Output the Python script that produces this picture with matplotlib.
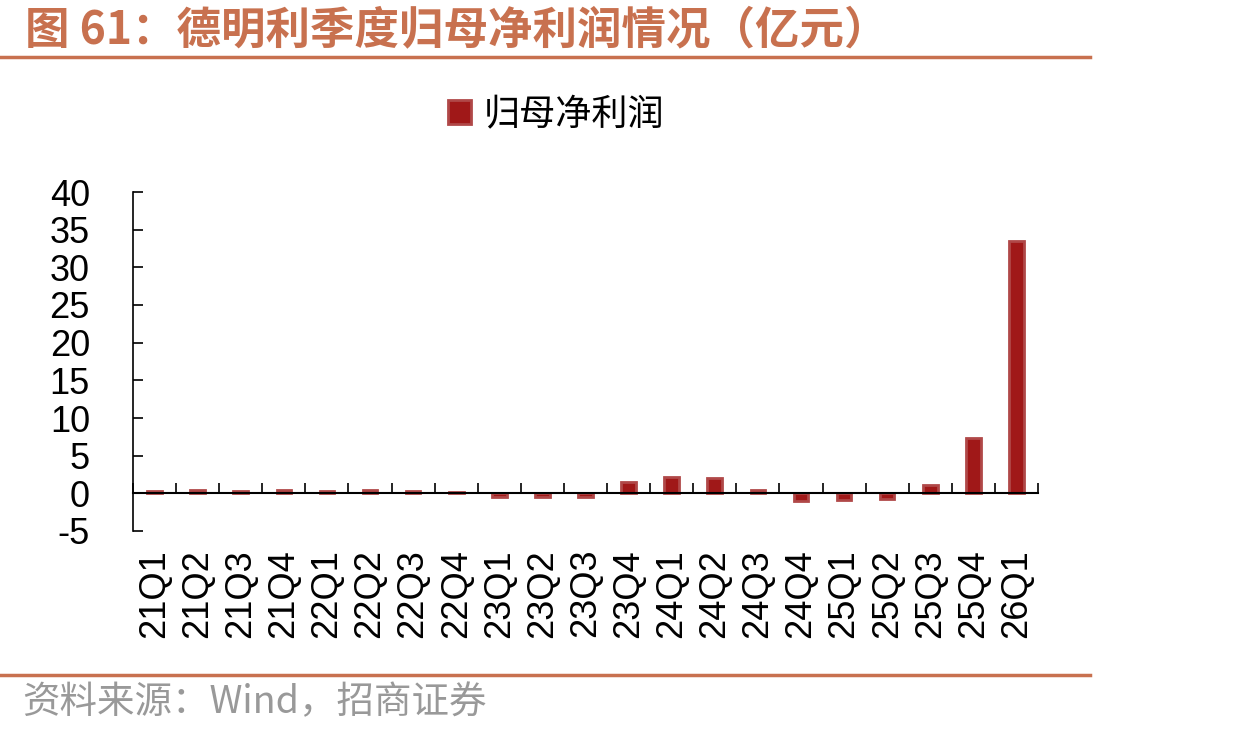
import numpy as np
import matplotlib
matplotlib.use("Agg")
import matplotlib.pyplot as plt

plt.rcParams['font.family'] = ['Liberation Sans', 'Noto Sans CJK SC', 'DejaVu Sans']

# quarterly net profit attributable to parent (100m CNY)
quarters = ["21Q1", "21Q2", "21Q3", "21Q4", "22Q1", "22Q2", "22Q3", "22Q4",
            "23Q1", "23Q2", "23Q3", "23Q4", "24Q1", "24Q2", "24Q3", "24Q4",
            "25Q1", "25Q2", "25Q3", "25Q4", "26Q1"]
profit = [0.3, 0.45, 0.3, 0.45, 0.3, 0.45, 0.3, 0.15,
          -0.55, -0.5, -0.55, 1.5, 2.2, 2.0, 0.4, -1.0,
          -0.85, -0.7, 1.15, 7.4, 33.5]
yticks = [-5, 0, 5, 10, 15, 20, 25, 30, 35, 40]

accent = "#C8714F"
bar_color = "#A01818"

fig = plt.figure(figsize=(12.45, 7.35), dpi=100)
ax = fig.add_axes([133/1245, 1-531/735, (1038-133)/1245, (531-192)/735])

x = np.arange(len(quarters))
ax.bar(x, profit, width=0.34, color=bar_color, edgecolor="#B04848", linewidth=2.0,
       label="归母净利润", zorder=3)

ax.set_xlim(-0.5, len(quarters) - 0.5)
ax.set_ylim(-5, 40)
ax.set_yticks(yticks)
ax.set_yticklabels([str(v) for v in yticks], fontsize=26)
ax.tick_params(axis='y', direction='in', length=7.5, width=1.2, pad=31)

ax.spines['top'].set_visible(False)
ax.spines['right'].set_visible(False)
ax.spines['left'].set_linewidth(1.2)
ax.spines['bottom'].set_position(('data', 0))
ax.spines['bottom'].set_linewidth(1.5)
ax.spines['bottom'].set_zorder(4)

ax.set_xticks(x)
ax.set_xticklabels(quarters, rotation=90, fontsize=26, va='top')
ax.set_xticks(np.arange(-0.5, len(quarters), 1), minor=True)
ax.tick_params(axis='x', which='major', length=0, pad=40)
ax.tick_params(axis='x', which='minor', direction='in', length=7.5, width=1.2)

fig.legend(loc='center', bbox_to_anchor=(556/1245, 1-115/735), frameon=False,
           handlelength=0.65, handleheight=0.65, handletextpad=0.35,
           prop={'family': ['Noto Sans CJK SC'], 'size': 26})

# header and footer
fig.text(25/1245, 1-30/735, "图 61：德明利季度归母净利润情况（亿元）", color=accent,
         fontsize=32, fontweight='bold', va='center', ha='left',
         family=['Noto Sans CJK SC', 'DejaVu Sans'])
fig.add_artist(plt.Line2D([0, 1090/1245], [1-57/735, 1-57/735], color=accent, linewidth=2.5))
fig.add_artist(plt.Line2D([0, 1090/1245], [1-675/735, 1-675/735], color=accent, linewidth=2.5))
fig.text(22/1245, 1-703/735, "资料来源：Wind，招商证券", color="#999999", fontsize=27,
         va='center', ha='left', family=['Noto Sans CJK SC', 'DejaVu Sans'])

fig.savefig("out.png", dpi=100)
